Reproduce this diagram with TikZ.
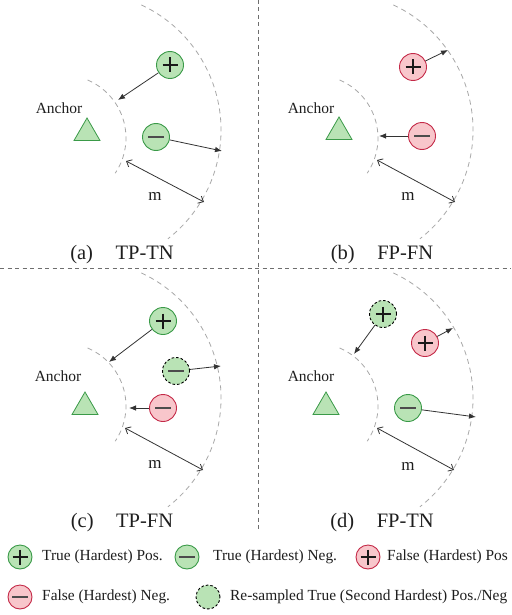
\documentclass[tikz,border=0pt]{standalone}
\usepackage{fontspec}
\setmainfont{Liberation Serif}
\usetikzlibrary{arrows.meta,shapes.geometric,calc}
\definecolor{gfill}{HTML}{B9E3B5}
\definecolor{gline}{HTML}{3A9A48}
\definecolor{rfill}{HTML}{F8C6CB}
\definecolor{rline}{HTML}{C42A48}
\definecolor{arcc}{HTML}{A8A8A8}
\definecolor{divc}{HTML}{6E6E6E}
\definecolor{arrc}{HTML}{333333}
\definecolor{txtc}{HTML}{1E1E1E}
\tikzset{
  sym/.style={circle, minimum size=27pt, inner sep=0pt, line width=0.9pt},
  legsym/.style={sym, minimum size=24pt},
  gsym/.style={fill=gfill, draw=gline},
  rsym/.style={fill=rfill, draw=rline},
  dsym/.style={fill=gfill, draw=black, dash pattern=on 2.6pt off 2pt},
  plusmark/.style={path picture={
    \draw[solid, line width=1.4pt, black!90] ($(path picture bounding box.center)+(-7.5,0)$) -- ++(15,0);
    \draw[solid, line width=1.4pt, black!90] ($(path picture bounding box.center)+(0,-7.5)$) -- ++(0,15);}},
  minusmark/.style={path picture={
    \draw[solid, line width=1.3pt, black!70] ($(path picture bounding box.center)+(-8,0)$) -- ++(16,0);}},
  anchortri/.style={regular polygon, regular polygon sides=3, minimum size=30pt, inner sep=0pt,
    fill=gfill, draw=gline, line width=0.8pt},
  arcline/.style={draw=arcc, line width=0.8pt, dash pattern=on 5pt off 4pt},
  divline/.style={draw=divc, line width=0.9pt, dash pattern=on 4pt off 3.5pt},
  arr/.style={draw=arrc, line width=0.8pt, -{Latex[length=7pt,width=5.5pt]}},
  marr/.style={draw=arrc, line width=0.8pt, {Straight Barb[length=4.5pt,width=8pt]}-{Straight Barb[length=4.5pt,width=8pt]}},
  anchorlbl/.style={font=\fontsize{15.5}{18}\selectfont, text=txtc, inner sep=0pt},
  mlbl/.style={font=\fontsize{17}{20}\selectfont, text=txtc, inner sep=0pt},
  caplbl/.style={font=\fontsize{20.5}{24}\selectfont, text=txtc, inner sep=0pt},
  leglbl/.style={font=\fontsize{15.4}{18}\selectfont, text=txtc, inner sep=0pt, anchor=west}
}
\newcommand{\panelarcs}[2]{%
  \coordinate (oc) at ($(83,130)+(#1,#2)$);
  \coordinate (ic) at ($(63,138)+(#1,#2)$);
  \draw[arcline] ($(oc)+(-65:138)$) arc[start angle=-65, end angle=52, radius=138];
  \draw[arcline] ($(ic)+(-67:63)$) arc[start angle=-67, end angle=34, radius=63];
}
\begin{document}
\begin{tikzpicture}[x=1pt,y=-1pt]
\useasboundingbox (0,0) rectangle (511,615);
\fill[white] (0,0) rectangle (511,615);

% dividers
\coordinate (vt) at (258,0);
\coordinate (vb) at (258,532);
\coordinate (hl) at (0,268);
\coordinate (hr) at (511,268);
\draw[divline] (vt) -- (vb);
\draw[divline] (hl) -- (hr);

% ---------- panel (a)
\panelarcs{0}{0}
\node[anchortri] (ta) at (87,133) {};
\node[anchorlbl] (la) at (59,108) {Anchor};
\node[sym,gsym,plusmark] (pa) at (170,65) {};
\node[sym,gsym,minusmark] (na) at (156,137) {};
\coordinate (pa2) at (118,100);
\coordinate (na2) at (222,151);
\draw[arr] (pa) -- (pa2);
\draw[arr] (na) -- (na2);
\coordinate (ma1) at (126,161);
\coordinate (ma2) at (204,202);
\draw[marr] (ma1) -- (ma2);
\node[mlbl] (mla) at (155,196) {m};
\node[caplbl] (ca) at (122,255) {(a)\hspace{1.1em}TP-TN};

% ---------- panel (b)
\panelarcs{252}{0}
\node[anchortri] (tb) at (339,132) {};
\node[anchorlbl] (lb) at (311,108) {Anchor};
\node[sym,rsym,plusmark] (pb) at (413,67) {};
\node[sym,rsym,minusmark] (nb) at (422,136) {};
\coordinate (pb2) at (448,50);
\coordinate (nb2) at (379,136);
\draw[arr] (pb) -- (pb2);
\draw[arr] (nb) -- (nb2);
\coordinate (mb1) at (377,160);
\coordinate (mb2) at (455,202);
\draw[marr] (mb1) -- (mb2);
\node[mlbl] (mlb) at (408,196) {m};
\node[caplbl] (cb) at (382,255) {(b)\hspace{1.1em}FP-FN};

% ---------- panel (c)
\panelarcs{0}{268}
\node[anchortri] (tc) at (85,407) {};
\node[anchorlbl] (lc) at (58,376) {Anchor};
\node[sym,gsym,plusmark] (pc) at (163,321) {};
\node[sym,dsym,minusmark] (dc) at (176,371) {};
\node[sym,rsym,minusmark] (nc) at (163,408) {};
\coordinate (pc2) at (109,362);
\coordinate (dc2) at (221,366);
\coordinate (nc2) at (129,408);
\draw[arr] (pc) -- (pc2);
\draw[arr] (dc) -- (dc2);
\draw[arr] (nc) -- (nc2);
\coordinate (mc1) at (125,428);
\coordinate (mc2) at (203,470);
\draw[marr] (mc1) -- (mc2);
\node[mlbl] (mlc) at (155,464) {m};
\node[caplbl] (cc) at (122,523) {(c)\hspace{1.1em}TP-FN};

% ---------- panel (d)
\panelarcs{252}{268}
\node[anchortri] (td) at (326,407) {};
\node[anchorlbl] (ld) at (311,376) {Anchor};
\node[sym,dsym,plusmark] (dd) at (383,314) {};
\node[sym,rsym,plusmark] (pd) at (425,343) {};
\node[sym,gsym,minusmark] (nd) at (408,408) {};
\coordinate (dd2) at (354,354);
\coordinate (pd2) at (453,328);
\coordinate (nd2) at (476,417);
\draw[arr] (dd) -- (dd2);
\draw[arr] (pd) -- (pd2);
\draw[arr] (nd) -- (nd2);
\coordinate (md1) at (377,428);
\coordinate (md2) at (454,470);
\draw[marr] (md1) -- (md2);
\node[mlbl] (mld) at (408,466) {m};
\node[caplbl] (cd) at (382,523) {(d)\hspace{1.1em}FP-TN};

% ---------- legend
\node[legsym,gsym,plusmark] (l1) at (20,557) {};
\node[leglbl] (t1) at (42,557) {True (Hardest) Pos.};
\node[legsym,gsym,minusmark] (l2) at (187,557) {};
\node[leglbl] (t2) at (213,557) {True (Hardest) Neg.};
\node[legsym,rsym,plusmark] (l3) at (368,557) {};
\node[leglbl] (t3) at (387,557) {False (Hardest) Pos};
\node[legsym,rsym,minusmark] (l4) at (20,597) {};
\node[leglbl] (t4) at (42,597) {False (Hardest) Neg.};
\node[legsym,dsym] (l5) at (208,597) {};
\node[leglbl] (t5) at (230,597) {Re-sampled True (Second Hardest) Pos./Neg};
\end{tikzpicture}
\end{document}
